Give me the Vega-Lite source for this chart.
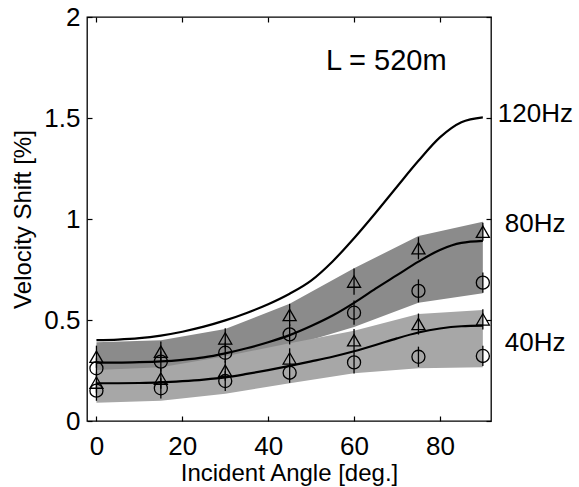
{
  "$schema": "https://vega.github.io/schema/vega-lite/v6.json",
  "autosize": "none",
  "width": 404,
  "height": 404,
  "padding": {"left": 87, "top": 17, "right": 88, "bottom": 66},
  "background": "white",
  "config": {
    "font": "Liberation Sans",
    "view": {"stroke": "#000", "strokeWidth": 1.3},
    "axis": {"grid": false, "domain": false, "tickColor": "#000", "labelColor": "#000", "titleColor": "#000", "labelFont": "Liberation Sans", "titleFont": "Liberation Sans", "labelFontSize": 26, "titleFontSize": 24, "titleFontWeight": "normal", "tickWidth": 1.2}
  },
  "datasets": {
    "bands": [
      {"angle": 0, "hi": 0.39, "lo": 0.24, "band": "80Hz"},
      {"angle": 15, "hi": 0.40, "lo": 0.25, "band": "80Hz"},
      {"angle": 30, "hi": 0.455, "lo": 0.30, "band": "80Hz"},
      {"angle": 45, "hi": 0.58, "lo": 0.37, "band": "80Hz"},
      {"angle": 60, "hi": 0.756, "lo": 0.465, "band": "80Hz"},
      {"angle": 75, "hi": 0.916, "lo": 0.586, "band": "80Hz"},
      {"angle": 90, "hi": 0.987, "lo": 0.632, "band": "80Hz"},
      {"angle": 0, "hi": 0.252, "lo": 0.09, "band": "40Hz"},
      {"angle": 15, "hi": 0.266, "lo": 0.10, "band": "40Hz"},
      {"angle": 30, "hi": 0.32, "lo": 0.135, "band": "40Hz"},
      {"angle": 45, "hi": 0.385, "lo": 0.187, "band": "40Hz"},
      {"angle": 60, "hi": 0.447, "lo": 0.236, "band": "40Hz"},
      {"angle": 75, "hi": 0.53, "lo": 0.261, "band": "40Hz"},
      {"angle": 90, "hi": 0.55, "lo": 0.266, "band": "40Hz"}
    ],
    "lines": [
      {"angle": 0, "v": 0.400, "freq": "120Hz"},
      {"angle": 5, "v": 0.403, "freq": "120Hz"},
      {"angle": 10, "v": 0.410, "freq": "120Hz"},
      {"angle": 15, "v": 0.423, "freq": "120Hz"},
      {"angle": 20, "v": 0.442, "freq": "120Hz"},
      {"angle": 25, "v": 0.467, "freq": "120Hz"},
      {"angle": 30, "v": 0.498, "freq": "120Hz"},
      {"angle": 35, "v": 0.535, "freq": "120Hz"},
      {"angle": 40, "v": 0.578, "freq": "120Hz"},
      {"angle": 45, "v": 0.630, "freq": "120Hz"},
      {"angle": 50, "v": 0.695, "freq": "120Hz"},
      {"angle": 55, "v": 0.790, "freq": "120Hz"},
      {"angle": 60, "v": 0.905, "freq": "120Hz"},
      {"angle": 65, "v": 1.030, "freq": "120Hz"},
      {"angle": 70, "v": 1.160, "freq": "120Hz"},
      {"angle": 75, "v": 1.288, "freq": "120Hz"},
      {"angle": 80, "v": 1.404, "freq": "120Hz"},
      {"angle": 85, "v": 1.479, "freq": "120Hz"},
      {"angle": 90, "v": 1.503, "freq": "120Hz"},
      {"angle": 0, "v": 0.289, "freq": "80Hz"},
      {"angle": 5, "v": 0.289, "freq": "80Hz"},
      {"angle": 10, "v": 0.291, "freq": "80Hz"},
      {"angle": 15, "v": 0.295, "freq": "80Hz"},
      {"angle": 20, "v": 0.303, "freq": "80Hz"},
      {"angle": 25, "v": 0.315, "freq": "80Hz"},
      {"angle": 30, "v": 0.335, "freq": "80Hz"},
      {"angle": 35, "v": 0.360, "freq": "80Hz"},
      {"angle": 40, "v": 0.390, "freq": "80Hz"},
      {"angle": 45, "v": 0.425, "freq": "80Hz"},
      {"angle": 50, "v": 0.470, "freq": "80Hz"},
      {"angle": 55, "v": 0.522, "freq": "80Hz"},
      {"angle": 60, "v": 0.585, "freq": "80Hz"},
      {"angle": 65, "v": 0.655, "freq": "80Hz"},
      {"angle": 70, "v": 0.722, "freq": "80Hz"},
      {"angle": 75, "v": 0.789, "freq": "80Hz"},
      {"angle": 80, "v": 0.847, "freq": "80Hz"},
      {"angle": 85, "v": 0.882, "freq": "80Hz"},
      {"angle": 90, "v": 0.892, "freq": "80Hz"},
      {"angle": 0, "v": 0.187, "freq": "40Hz"},
      {"angle": 5, "v": 0.187, "freq": "40Hz"},
      {"angle": 10, "v": 0.188, "freq": "40Hz"},
      {"angle": 15, "v": 0.191, "freq": "40Hz"},
      {"angle": 20, "v": 0.197, "freq": "40Hz"},
      {"angle": 25, "v": 0.205, "freq": "40Hz"},
      {"angle": 30, "v": 0.216, "freq": "40Hz"},
      {"angle": 35, "v": 0.233, "freq": "40Hz"},
      {"angle": 40, "v": 0.252, "freq": "40Hz"},
      {"angle": 45, "v": 0.273, "freq": "40Hz"},
      {"angle": 50, "v": 0.295, "freq": "40Hz"},
      {"angle": 55, "v": 0.318, "freq": "40Hz"},
      {"angle": 60, "v": 0.345, "freq": "40Hz"},
      {"angle": 65, "v": 0.376, "freq": "40Hz"},
      {"angle": 70, "v": 0.409, "freq": "40Hz"},
      {"angle": 75, "v": 0.438, "freq": "40Hz"},
      {"angle": 80, "v": 0.458, "freq": "40Hz"},
      {"angle": 85, "v": 0.469, "freq": "40Hz"},
      {"angle": 90, "v": 0.472, "freq": "40Hz"}
    ],
    "points": [
      {"angle": 0, "v": 0.318, "lo": 0.263, "hi": 0.373, "marker": "triangle", "freq": "80Hz"},
      {"angle": 15, "v": 0.343, "lo": 0.293, "hi": 0.393, "marker": "triangle", "freq": "80Hz"},
      {"angle": 30, "v": 0.409, "lo": 0.359, "hi": 0.459, "marker": "triangle", "freq": "80Hz"},
      {"angle": 45, "v": 0.525, "lo": 0.47, "hi": 0.58, "marker": "triangle", "freq": "80Hz"},
      {"angle": 60, "v": 0.69, "lo": 0.625, "hi": 0.755, "marker": "triangle", "freq": "80Hz"},
      {"angle": 75, "v": 0.855, "lo": 0.80, "hi": 0.91, "marker": "triangle", "freq": "80Hz"},
      {"angle": 90, "v": 0.937, "lo": 0.892, "hi": 0.982, "marker": "triangle", "freq": "80Hz"},
      {"angle": 0, "v": 0.261, "lo": 0.211, "hi": 0.311, "marker": "circle", "freq": "80Hz"},
      {"angle": 15, "v": 0.294, "lo": 0.244, "hi": 0.344, "marker": "circle", "freq": "80Hz"},
      {"angle": 30, "v": 0.338, "lo": 0.288, "hi": 0.388, "marker": "circle", "freq": "80Hz"},
      {"angle": 45, "v": 0.429, "lo": 0.379, "hi": 0.479, "marker": "circle", "freq": "80Hz"},
      {"angle": 60, "v": 0.536, "lo": 0.476, "hi": 0.596, "marker": "circle", "freq": "80Hz"},
      {"angle": 75, "v": 0.644, "lo": 0.587, "hi": 0.701, "marker": "circle", "freq": "80Hz"},
      {"angle": 90, "v": 0.685, "lo": 0.635, "hi": 0.735, "marker": "circle", "freq": "80Hz"},
      {"angle": 0, "v": 0.19, "lo": 0.14, "hi": 0.24, "marker": "triangle", "freq": "40Hz"},
      {"angle": 15, "v": 0.21, "lo": 0.16, "hi": 0.26, "marker": "triangle", "freq": "40Hz"},
      {"angle": 30, "v": 0.249, "lo": 0.199, "hi": 0.299, "marker": "triangle", "freq": "40Hz"},
      {"angle": 45, "v": 0.31, "lo": 0.26, "hi": 0.36, "marker": "triangle", "freq": "40Hz"},
      {"angle": 60, "v": 0.40, "lo": 0.345, "hi": 0.455, "marker": "triangle", "freq": "40Hz"},
      {"angle": 75, "v": 0.48, "lo": 0.428, "hi": 0.532, "marker": "triangle", "freq": "40Hz"},
      {"angle": 90, "v": 0.503, "lo": 0.453, "hi": 0.553, "marker": "triangle", "freq": "40Hz"},
      {"angle": 0, "v": 0.15, "lo": 0.10, "hi": 0.20, "marker": "circle", "freq": "40Hz"},
      {"angle": 15, "v": 0.162, "lo": 0.112, "hi": 0.212, "marker": "circle", "freq": "40Hz"},
      {"angle": 30, "v": 0.198, "lo": 0.148, "hi": 0.248, "marker": "circle", "freq": "40Hz"},
      {"angle": 45, "v": 0.239, "lo": 0.189, "hi": 0.289, "marker": "circle", "freq": "40Hz"},
      {"angle": 60, "v": 0.29, "lo": 0.235, "hi": 0.345, "marker": "circle", "freq": "40Hz"},
      {"angle": 75, "v": 0.318, "lo": 0.268, "hi": 0.368, "marker": "circle", "freq": "40Hz"},
      {"angle": 90, "v": 0.322, "lo": 0.272, "hi": 0.372, "marker": "circle", "freq": "40Hz"}
    ],
    "hzlabels": [
      {"angle": 93.5, "v": 1.52, "label": "120Hz"},
      {"angle": 95.1, "v": 0.975, "label": "80Hz"},
      {"angle": 95.1, "v": 0.384, "label": "40Hz"}
    ],
    "note": [
      {"angle": 67.5, "v": 1.78, "label": "L = 520m"}
    ]
  },
  "resolve": {"axis": {"x": "independent", "y": "independent"}},
  "layer": [
    {
      "data": {"name": "bands"},
      "transform": [{"filter": "datum.band == '80Hz'"}],
      "mark": {"type": "area", "color": "#8b8b8b", "opacity": 1},
      "encoding": {
        "x": {"field": "angle", "type": "quantitative", "scale": {"domain": [-2.2, 91.9], "nice": false, "zero": false},
          "axis": {"orient": "bottom", "values": [0, 20, 40, 60, 80], "tickSize": -5, "labelPadding": 17, "title": "Incident Angle [deg.]", "titlePadding": 2}},
        "y": {"field": "hi", "type": "quantitative", "scale": {"domain": [0, 2], "nice": false},
          "axis": {"orient": "left", "values": [0, 0.5, 1, 1.5, 2], "tickSize": -5, "labelPadding": 12, "labelExpr": "'' + datum.value", "title": "Velocity Shift [%]", "titlePadding": 8}},
        "y2": {"field": "lo"}
      }
    },
    {
      "data": {"name": "bands"},
      "transform": [{"filter": "datum.band == '40Hz'"}],
      "mark": {"type": "area", "color": "#a7a7a7", "opacity": 1},
      "encoding": {
        "x": {"field": "angle", "type": "quantitative", "axis": null},
        "y": {"field": "hi", "type": "quantitative", "axis": null},
        "y2": {"field": "lo"}
      }
    },
    {
      "data": {"name": "lines"},
      "mark": {"type": "line", "color": "#000", "strokeWidth": 2.2, "interpolate": "monotone"},
      "encoding": {
        "x": {"field": "angle", "type": "quantitative", "axis": null},
        "y": {"field": "v", "type": "quantitative", "axis": null},
        "detail": {"field": "freq"}
      }
    },
    {
      "data": {"name": "points"},
      "mark": {"type": "rule", "color": "#000", "strokeWidth": 1.3},
      "encoding": {
        "x": {"field": "angle", "type": "quantitative",
          "axis": {"orient": "top", "values": [0, 20, 40, 60, 80], "tickSize": -5, "labels": false, "title": null}},
        "y": {"field": "lo", "type": "quantitative",
          "axis": {"orient": "right", "values": [0, 0.5, 1, 1.5, 2], "tickSize": -5, "labels": false, "title": null}},
        "y2": {"field": "hi"}
      }
    },
    {
      "data": {"name": "points"},
      "mark": {"type": "point", "filled": false, "stroke": "#000", "strokeWidth": 1.3, "size": 170, "opacity": 1},
      "encoding": {
        "x": {"field": "angle", "type": "quantitative", "axis": null},
        "y": {"field": "v", "type": "quantitative", "axis": null},
        "shape": {"field": "marker", "type": "nominal", "scale": {"domain": ["triangle", "circle"], "range": ["triangle-up", "circle"]}, "legend": null}
      }
    },
    {
      "data": {"name": "hzlabels"},
      "mark": {"type": "text", "align": "left", "baseline": "middle", "fontSize": 26, "font": "Liberation Sans", "color": "#000"},
      "encoding": {
        "x": {"field": "angle", "type": "quantitative", "axis": null},
        "y": {"field": "v", "type": "quantitative", "axis": null},
        "text": {"field": "label"}
      }
    },
    {
      "data": {"name": "note"},
      "mark": {"type": "text", "align": "center", "baseline": "middle", "fontSize": 29, "font": "Liberation Sans", "color": "#000"},
      "encoding": {
        "x": {"field": "angle", "type": "quantitative", "axis": null},
        "y": {"field": "v", "type": "quantitative", "axis": null},
        "text": {"field": "label"}
      }
    }
  ]
}
